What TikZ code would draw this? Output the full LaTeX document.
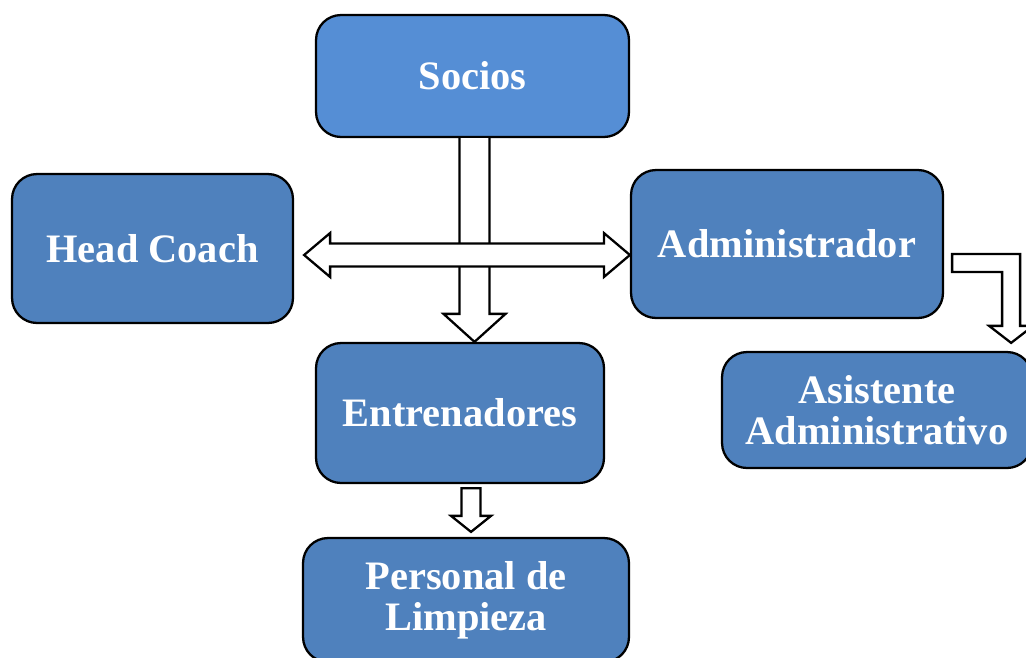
\documentclass[tikz,border=0pt]{standalone}
\usepackage{fontspec}
\setmainfont{Liberation Serif}
\usetikzlibrary{calc}
\definecolor{sociosblue}{RGB}{85,142,213}
\definecolor{boxblue}{RGB}{79,129,189}
\begin{document}
\begin{tikzpicture}[x=0.02cm,y=-0.02cm,
    box/.style={draw=black,line width=1.3pt,rounded corners=0.5cm,fill=boxblue,
      text=white,align=center,font=\bfseries\fontsize{23}{23.5}\selectfont},
    blockarrow/.style={draw=black,line width=1.3pt,fill=white,line join=miter}]
    \useasboundingbox (0,0) rectangle (1026,657);
    \clip (0,0) rectangle (1026,657);
    % boxes
    \node[box,fill=sociosblue,minimum width=6.26cm,minimum height=2.44cm] (socios) at (472.5,76) {Socios};
    \node[box,minimum width=5.62cm,minimum height=2.98cm] (coach) at (152.5,248.5) {Head Coach};
    \node[box,minimum width=6.24cm,minimum height=2.96cm] (admin) at (787,244) {Administrador};
    \node[box,minimum width=5.76cm,minimum height=2.80cm] (entren) at (460,413) {Entrenadores};
    \node[box,minimum width=6.20cm,minimum height=2.32cm] (asist) at (877,410) {Asistente\\Administrativo};
    \node[box,minimum width=6.52cm,minimum height=2.48cm] (personal) at (466,600) {Personal de\\Limpieza};
    % socios -> entrenadores
    \coordinate (vtip) at ($(socios.south |- entren.north)+(2,0)$);
    \draw[blockarrow] ($(vtip |- socios.south)+(-15,0)$) -- ($(vtip)+(-15,-28)$) -- ($(vtip)+(-31,-28)$)
      -- (vtip) -- ($(vtip)+(31,-28)$) -- ($(vtip)+(15,-28)$) -- ($(vtip |- socios.south)+(15,0)$);
    % head coach <-> administrador
    \coordinate (hl) at ($(coach.east)+(10,6.5)$);
    \coordinate (hr) at (hl -| admin.west);
    \draw[blockarrow] (hl) -- ($(hl)+(26,-22)$) -- ($(hl)+(26,-11.5)$) -- ($(hr)+(-26,-11.5)$)
      -- ($(hr)+(-26,-22)$) -- (hr) -- ($(hr)+(-26,22)$) -- ($(hr)+(-26,11.5)$)
      -- ($(hl)+(26,11.5)$) -- ($(hl)+(26,22)$) -- cycle;
    % administrador -> asistente
    \coordinate (bs) at ($(admin.east)+(8,19)$);
    \coordinate (bt) at ($(asist.north east)+(-22,-8)$);
    \draw[blockarrow] ($(bs)+(0,-9)$) -- ($(bt |- bs)+(9,-9)$) -- ($(bt)+(9,-17)$) -- ($(bt)+(22,-17)$)
      -- (bt) -- ($(bt)+(-22,-17)$) -- ($(bt)+(-9,-17)$) -- ($(bt |- bs)+(-9,9)$)
      -- ($(bs)+(0,9)$) -- cycle;
    % entrenadores -> personal
    \coordinate (ss) at ($(entren.south)+(11,4)$);
    \coordinate (st) at ($(personal.north)+(5,-5)$);
    \draw[blockarrow] ($(st |- ss)+(-9.5,0)$) -- ($(st)+(-9.5,-16)$) -- ($(st)+(-20,-16)$)
      -- (st) -- ($(st)+(20,-16)$) -- ($(st)+(9.5,-16)$) -- ($(st |- ss)+(9.5,0)$) -- cycle;
\end{tikzpicture}
\end{document}
